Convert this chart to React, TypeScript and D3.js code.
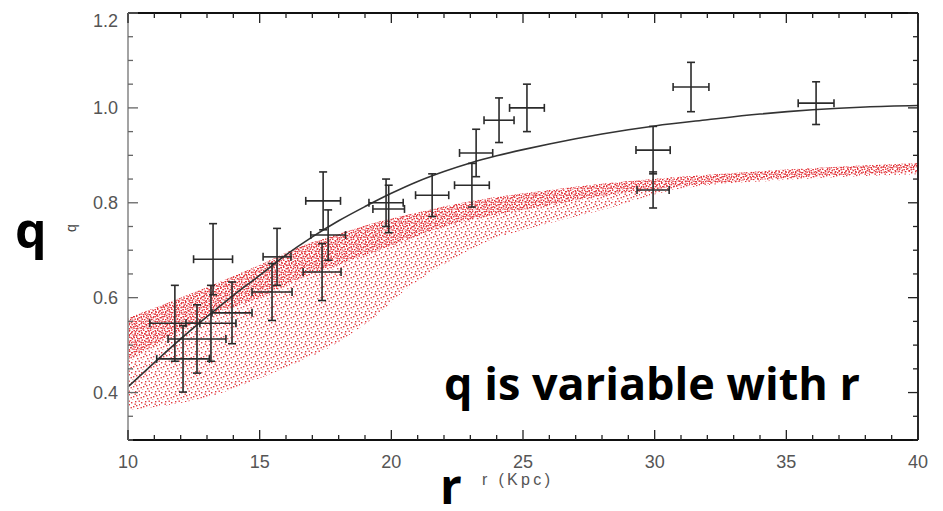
import React from "react";
import * as d3 from "d3";

// ---- data ----
const pointR = [13.23, 15.66, 15.47, 17.41, 17.6, 17.37, 19.8, 19.9, 21.55, 23.06, 23.22, 24.09, 25.15, 31.38, 29.94, 29.94, 36.13, 11.78, 12.09, 12.62, 13.15, 13.95];
const pointQ = [0.681, 0.686, 0.612, 0.804, 0.732, 0.654, 0.8, 0.787, 0.816, 0.837, 0.905, 0.974, 1.0, 1.044, 0.911, 0.827, 1.01, 0.546, 0.471, 0.513, 0.546, 0.568];
const pointRErr = [0.74, 0.53, 0.76, 0.66, 0.66, 0.72, 0.65, 0.6, 0.63, 0.66, 0.63, 0.57, 0.66, 0.68, 0.65, 0.61, 0.68, 0.95, 1.0, 1.1, 0.95, 0.76];
const pointQErr = [0.075, 0.06, 0.06, 0.061, 0.053, 0.06, 0.05, 0.05, 0.045, 0.046, 0.05, 0.047, 0.05, 0.052, 0.05, 0.038, 0.045, 0.08, 0.07, 0.072, 0.08, 0.065];

const curveR = [10, 11, 12, 13, 14, 15, 16, 17, 18, 19, 20, 21, 22, 23, 24, 25, 26, 27, 28, 29, 30, 32, 34, 36, 38, 40];
const curveQ = [0.412, 0.463, 0.513, 0.56, 0.605, 0.647, 0.69, 0.728, 0.762, 0.792, 0.82, 0.845, 0.866, 0.884, 0.899, 0.912, 0.924, 0.935, 0.945, 0.954, 0.962, 0.975, 0.987, 0.996, 1.002, 1.005];

const bandR = [10, 12, 13, 15, 16.5, 17.5, 18.5, 19.5, 20.5, 22, 23.5, 25.5, 28, 31, 35, 40];
const bandUpper = [0.557, 0.6, 0.622, 0.669, 0.707, 0.726, 0.743, 0.76, 0.773, 0.792, 0.808, 0.823, 0.84, 0.855, 0.87, 0.884];
const bandLower = [0.363, 0.378, 0.39, 0.43, 0.465, 0.49, 0.525, 0.565, 0.615, 0.67, 0.715, 0.75, 0.785, 0.83, 0.848, 0.86];
const bandDense = [0.47, 0.53, 0.56, 0.6, 0.64, 0.66, 0.68, 0.7, 0.72, 0.75, 0.77, 0.79, 0.815, 0.835, 0.852, 0.866];

const xTicks = [10, 15, 20, 25, 30, 35, 40];
const yTicks = [0.4, 0.6, 0.8, 1.0, 1.2];

const W = 943, H = 511;
const x = d3.scaleLinear().domain([10, 40]).range([128, 918]);
const y = d3.scaleLinear().domain([0.3, 1.2]).range([440, 13]);

const sparseDots = [[1, 2], [5, 1], [9, 4], [3, 6], [7, 8], [2, 9.5], [8.5, 0.5], [6, 5], [0.5, 7], [4.5, 3.5]];
const denseDots = [[0.5, 1], [3, 0.5], [5.5, 2], [1.5, 3.5], [4, 4], [6.5, 5], [2.5, 6], [5, 6.8], [0.3, 5.5]];

export default function App() {
  const line = d3.line<number>().x((_, i) => x(curveR[i])).y((d) => y(d)).curve(d3.curveMonotoneX);
  const area = (upper: number[], lower: number[]) =>
    d3.area<number>().x((_, i) => x(bandR[i])).y0((_, i) => y(lower[i])).y1((d) => y(d)).curve(d3.curveMonotoneX)(upper) || "";

  const xMinor = d3.range(10, 41, 1);
  const yMinor = d3.range(0.3, 1.2001, 0.05);
  const ink = "#2b2b2b";
  const red = "#e01a20";

  return (
    <svg width={W} height={H} style={{ position: "absolute", left: 0, top: 0, background: "#fff" }}>
      <defs>
        <pattern id="sparse" width={10} height={10} patternUnits="userSpaceOnUse">
          {sparseDots.map(([a, b], i) => (
            <rect key={i} x={a} y={b} width={1.4} height={1.4} fill={red} opacity={0.85} />
          ))}
        </pattern>
        <pattern id="dense" width={7} height={7} patternUnits="userSpaceOnUse">
          {denseDots.map(([a, b], i) => (
            <rect key={i} x={a} y={b} width={1.4} height={1.4} fill={red} opacity={0.9} />
          ))}
        </pattern>
      </defs>

      {/* red model cloud */}
      <path d={area(bandUpper, bandLower)} fill="url(#sparse)" />
      <path d={area(bandUpper, bandDense)} fill="url(#dense)" />

      {/* fitted curve */}
      <path d={line(curveQ) || ""} fill="none" stroke="#333" strokeWidth={1.6} />

      {/* data points with error bars */}
      {pointR.map((r, i) => {
        const cx = x(r), cy = y(pointQ[i]);
        const x0 = x(r - pointRErr[i]), x1 = x(r + pointRErr[i]);
        const y0 = y(pointQ[i] - pointQErr[i]), y1 = y(pointQ[i] + pointQErr[i]);
        return (
          <g key={i} stroke={ink} strokeWidth={1.6}>
            <line x1={x0} x2={x1} y1={cy} y2={cy} />
            <line x1={cx} x2={cx} y1={y0} y2={y1} />
            <line x1={x0} x2={x0} y1={cy - 4} y2={cy + 4} />
            <line x1={x1} x2={x1} y1={cy - 4} y2={cy + 4} />
            <line x1={cx - 4} x2={cx + 4} y1={y0} y2={y0} />
            <line x1={cx - 4} x2={cx + 4} y1={y1} y2={y1} />
          </g>
        );
      })}

      {/* frame */}
      <line x1={128} x2={918} y1={440} y2={440} stroke="#111" strokeWidth={1.8} />
      <line x1={128} x2={918} y1={13} y2={13} stroke="#111" strokeWidth={1.8} />
      <line x1={918} x2={918} y1={13} y2={440} stroke="#111" strokeWidth={1.8} />
      <line x1={128} x2={128} y1={13} y2={440} stroke="#999" strokeWidth={1.8} />

      {/* x ticks */}
      {xMinor.map((v) => {
        const major = xTicks.includes(v);
        const len = major ? 10 : 5;
        return (
          <g key={"xt" + v} stroke="#222" strokeWidth={1.3}>
            <line x1={x(v)} x2={x(v)} y1={440} y2={440 - len} />
            <line x1={x(v)} x2={x(v)} y1={13} y2={13 + len} />
          </g>
        );
      })}
      {/* y ticks */}
      {yMinor.map((v, i) => {
        const major = yTicks.some((t) => Math.abs(t - v) < 1e-6);
        const len = major ? 10 : 5;
        return (
          <g key={"yt" + i} strokeWidth={1.3}>
            <line x1={128} x2={128 + len} y1={y(v)} y2={y(v)} stroke="#666" />
            <line x1={918} x2={918 - len} y1={y(v)} y2={y(v)} stroke="#222" />
          </g>
        );
      })}

      {/* tick labels */}
      {xTicks.map((v) => (
        <text key={"xl" + v} x={x(v)} y={468} textAnchor="middle" fontFamily="Liberation Sans, Arial, sans-serif" fontSize={18} fill="#555">
          {v}
        </text>
      ))}
      {yTicks.map((v) => (
        <text key={"yl" + v} x={118} y={Math.max(y(v), 21)} dy="0.35em" textAnchor="end" fontFamily="Liberation Sans, Arial, sans-serif" fontSize={18} fill="#555">
          {v.toFixed(1)}
        </text>
      ))}

      {/* axis titles */}
      <text x={482} y={485} fontFamily="Liberation Sans, Arial, sans-serif" fontSize={16} fill="#555" textLength={68}>
        r (Kpc)
      </text>
      <text transform="translate(76,232) rotate(-90)" fontFamily="Liberation Sans, Arial, sans-serif" fontSize={14} fill="#444">
        q
      </text>

      {/* annotations */}
      <text x={15} y={248} fontFamily="Open Sans, sans-serif" fontWeight={700} fontSize={50} fill="#000">q</text>
      <text x={440} y={504} fontFamily="Open Sans, sans-serif" fontWeight={700} fontSize={48} fill="#000">r</text>
      <text x={444} y={400} fontFamily="Open Sans, sans-serif" fontWeight={700} fontSize={45} fill="#000">q is variable with r</text>
    </svg>
  );
}
